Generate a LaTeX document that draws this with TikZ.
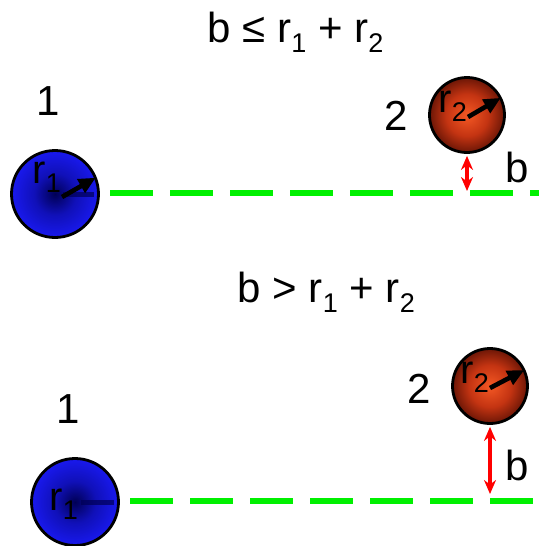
\documentclass[tikz,border=0pt]{standalone}
\usepackage{fontspec}
\setmainfont{Liberation Sans}
\usetikzlibrary{arrows.meta}
\definecolor{myblue}{RGB}{25,25,238}
\definecolor{mynavy}{RGB}{0,0,85}
\definecolor{myrust}{RGB}{244,88,36}
\definecolor{mymidred}{RGB}{196,52,18}
\definecolor{mybrown}{RGB}{108,22,6}
\definecolor{mygreen}{RGB}{0,240,0}
\definecolor{myred}{RGB}{255,0,0}
\pgfdeclareradialshading{bluesphere}{\pgfpoint{0bp}{0bp}}{color(0bp)=(mynavy);
  color(12bp)=(myblue!65!mynavy); color(25bp)=(myblue); color(50bp)=(myblue)}
\pgfdeclareradialshading{redsphere}{\pgfpoint{0bp}{0bp}}{color(0bp)=(myrust);
  color(14bp)=(mymidred); color(25bp)=(mybrown); color(50bp)=(mybrown)}
\newcommand{\lowsub}[1]{\raisebox{-0.24em}{\fontsize{27}{27}\selectfont #1}}
\tikzset{
  blueball/.style={circle, draw=black, line width=2.8pt, inner sep=0pt,
    minimum size=87pt, shading=bluesphere},
  redball/.style={circle, draw=black, line width=2.8pt, inner sep=0pt,
    minimum size=75pt, shading=redsphere},
  biglabel/.style={font=\fontsize{42}{48}\selectfont, inner sep=0pt, anchor=base},
  headlabel/.style={font=\fontsize{42}{48}\selectfont, inner sep=0pt, anchor=base west},
  balllabel/.style={font=\fontsize{40}{46}\selectfont, inner sep=0pt, anchor=base west},
  radarrow/.style={-{Triangle[length=17pt,width=15pt]}, line width=4.6pt, color=black},
  bluebar/.style={line width=5pt, color=mynavy, opacity=0.7},
  track/.style={color=mygreen, line width=5.5pt, dash pattern=on 43pt off 17pt},
  redarrow/.style={{Stealth[length=14pt,width=12pt]}-{Stealth[length=14pt,width=12pt]},
    line width=4pt, color=myred}
}
\begin{document}
\begin{tikzpicture}[x=1pt, y=-1pt]
  \useasboundingbox (0,0) rectangle (539,546);
  % Upper case: b <= r1 + r2
  \node[headlabel] (headA) at (207.5,42) {b ≤ r\lowsub{1} + r\lowsub{2}};
  \coordinate (startA) at (110,193);
  \coordinate (endA) at (539,193);
  \draw[track] (startA) -- (endA);
  \node[blueball] (blueA) at (55,194) {};
  \node[redball] (redA) at (467,115) {};
  \node[biglabel] (oneA) at (48.5,115) {1};
  \node[biglabel] (twoA) at (396.5,130) {2};
  \node[biglabel] (bA) at (517,182) {b};
  \node[balllabel] (rOneA) at (32.4,183) {r\lowsub{1}};
  \node[balllabel] (rTwoA) at (438.4,112) {r\lowsub{2}};
  \draw[bluebar] ([xshift=8pt]blueA.center) -- ([xshift=-6pt]blueA.east);
  \draw[radarrow, shorten >=1pt] ([shift={(7pt,-3pt)}]blueA.center) -- (blueA.22);
  \draw[radarrow, shorten >=1pt] ([shift={(1pt,-2pt)}]redA.center) -- (redA.27);
  \coordinate (footA) at (467,191);
  \draw[redarrow, shorten <=2pt] (redA.south) -- (footA);
  % Lower case: b > r1 + r2
  \node[headlabel] (headB) at (237.5,302) {b > r\lowsub{1} + r\lowsub{2}};
  \coordinate (startB) at (130,501);
  \coordinate (endB) at (539,501);
  \draw[track] (startB) -- (endB);
  \node[blueball] (blueB) at (75,502) {};
  \node[redball] (redB) at (490,386) {};
  \node[biglabel] (oneB) at (68.5,423) {1};
  \node[biglabel] (twoB) at (419,403) {2};
  \node[biglabel] (bB) at (517,480) {b};
  \node[balllabel] (rOneB) at (49.4,510) {r\lowsub{1}};
  \node[balllabel] (rTwoB) at (460.4,383) {r\lowsub{2}};
  \draw[bluebar] ([xshift=6pt]blueB.center) -- ([xshift=-6pt]blueB.east);
  \draw[radarrow, shorten >=1pt] ([shift={(0pt,-2pt)}]redB.center) -- (redB.25);
  \coordinate (footB) at (490,494);
  \draw[redarrow, shorten <=2pt] (redB.south) -- (footB);
\end{tikzpicture}
\end{document}
